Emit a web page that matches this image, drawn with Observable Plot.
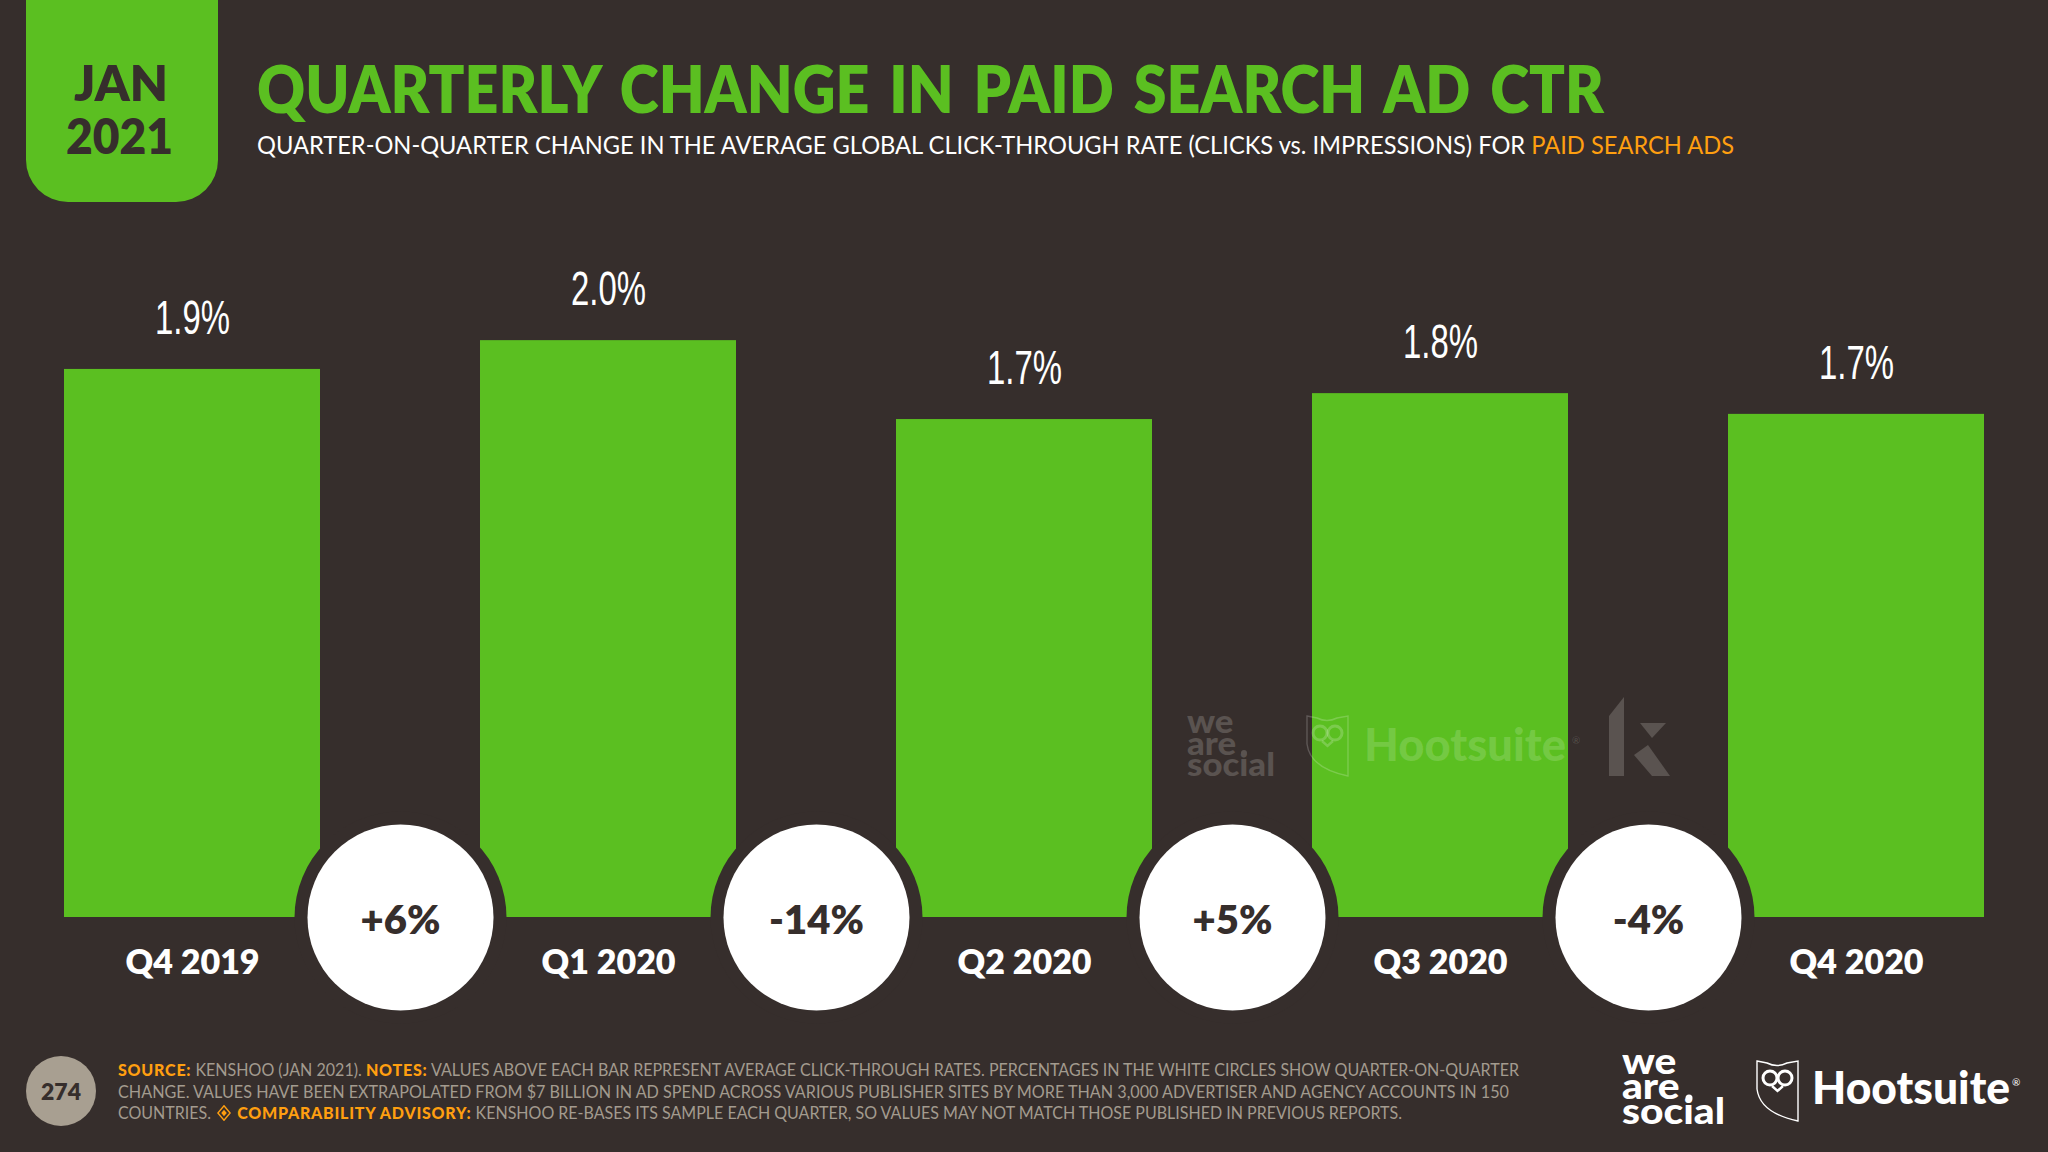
<!DOCTYPE html>
<html>
<head>
<meta charset="utf-8">
<script src="https://cdn.jsdelivr.net/npm/d3@7"></script>
<script src="https://cdn.jsdelivr.net/npm/@observablehq/plot@0.6"></script>
<style>
html,body{margin:0;padding:0;background:#362e2c;width:2048px;height:1152px;overflow:hidden}
#page{position:relative;width:2048px;height:1152px;overflow:hidden;font-family:Lato,sans-serif}
#chart{position:absolute;left:0;top:0}
.t{position:absolute;white-space:nowrap;transform-origin:0 0;line-height:1}
.o{color:#ff9f10}
b.o{font-weight:900;letter-spacing:.8px}
#tab{position:absolute;left:26px;top:-40px;width:192px;height:242px;background:#5bbf21;border-radius:0 0 42px 42px}
#pg{position:absolute;left:26px;top:1056px;width:70px;height:70px;border-radius:50%;background:#a89f91}
svg.logos{position:absolute;left:0;top:0;pointer-events:none}
</style>
</head>
<body>
<div id="page">
<div id="chart"></div>
<div id="tab"></div>
<div id="pg"></div>
<div class="t" id="jan" data-cx="121" data-w="94" style="top:58px;font-size:49px;font-weight:800;color:#362e2c">JAN</div>
<div class="t" id="yr" data-cx="119" data-w="107" style="top:111px;font-size:49px;font-weight:800;color:#362e2c">2021</div>
<div class="t" id="title" data-w="1347" style="left:257px;top:55px;font-size:66px;font-weight:800;word-spacing:7px;color:#5bbf21">QUARTERLY CHANGE IN PAID SEARCH AD CTR</div>
<div class="t" id="sub" data-w="1477" style="left:257px;top:132px;font-size:25px;font-weight:400;color:#fff">QUARTER-ON-QUARTER CHANGE IN THE AVERAGE GLOBAL CLICK-THROUGH RATE (CLICKS vs. IMPRESSIONS) FOR <span class="o">PAID SEARCH ADS</span></div>
<div class="t" id="pgn" data-cx="61" data-w="40" style="top:1080px;font-size:23px;font-weight:800;color:#362e2c">274</div>
<div class="t" id="f1" data-w="1401" style="left:118px;top:1061px;font-size:17px;color:#a39b8f"><b class="o">SOURCE:</b> KENSHOO (JAN 2021). <b class="o">NOTES:</b> VALUES ABOVE EACH BAR REPRESENT AVERAGE CLICK-THROUGH RATES. PERCENTAGES IN THE WHITE CIRCLES SHOW QUARTER-ON-QUARTER</div>
<div class="t" id="f2" data-w="1391" style="left:118px;top:1083px;font-size:17px;color:#a39b8f">CHANGE. VALUES HAVE BEEN EXTRAPOLATED FROM $7 BILLION IN AD SPEND ACROSS VARIOUS PUBLISHER SITES BY MORE THAN 3,000 ADVERTISER AND AGENCY ACCOUNTS IN 150</div>
<div class="t" id="f3" data-w="1284" style="left:118px;top:1104px;font-size:17px;color:#a39b8f">COUNTRIES. <svg width="15" height="16" viewBox="0 0 15 16" style="vertical-align:-2px;margin:0 2px"><path d="M7.5,.8 L14,8 L7.5,15.2 L1,8 Z" fill="none" stroke="#ff9f10" stroke-width="1.5"/><path d="M7.5,4.8 L10.4,8 L7.5,11.2 L4.6,8 Z" fill="#ff9f10"/></svg> <b class="o">COMPARABILITY ADVISORY:</b> KENSHOO RE-BASES ITS SAMPLE EACH QUARTER, SO VALUES MAY NOT MATCH THOSE PUBLISHED IN PREVIOUS REPORTS.</div>
<div class="t" data-w="103" style="left:1622px;top:1048px;font-size:36px;line-height:25px;font-weight:900;color:#fff">we<br>are<br>social</div>
<div class="t" data-w="198" style="left:1812px;top:1064px;font-size:46px;font-weight:900;color:#fff">Hootsuite</div>
<div class="t" style="left:2012px;top:1077px;font-size:10px;color:#fff">®</div>
<div class="t" data-w="88" style="left:1187px;top:710px;font-size:32px;line-height:21.5px;font-weight:900;color:#5a5350">we<br>are<br>social</div>
<div class="t" data-w="202" style="left:1364px;top:721px;font-size:46px;font-weight:900;color:rgba(255,255,255,.16)">Hootsuite</div>
<div class="t" style="left:1572px;top:735px;font-size:10px;color:rgba(255,255,255,.16)">®</div>
<svg class="logos" width="2048" height="1152">
  <defs>
    <g id="owl" fill="none" stroke-width="1.4">
      <path d="M0,0 L10,2 Q20,7 30,2 L41,0 L41,60 Q3,52 0,28 Z"/>
      <circle cx="13" cy="17" r="7" stroke-width="3"/>
      <circle cx="28" cy="17" r="7" stroke-width="3"/>
      <path d="M15,25 L20.5,30 L26,25" stroke-width="2.4"/>
    </g>
  </defs>
  <use href="#owl" x="1757" y="1061" stroke="#fff"/>
  <use href="#owl" x="1307" y="716" stroke="rgba(255,255,255,.2)"/>
  <circle cx="1689" cy="1098" r="3.5" fill="#fff"/>
  <circle cx="1244" cy="753" r="3" fill="#5a5350"/>
  <g fill="#5a5350">
    <polygon points="1609,716 1624,697 1624,776 1609,776"/>
    <polygon points="1640,723 1666,723 1652,738"/>
    <polygon points="1634,755 1648,745 1670,776 1652,776"/>
  </g>
</svg>
</div>
<script>
const quarters = ["Q4 2019", "Q1 2020", "Q2 2020", "Q3 2020", "Q4 2020"];
const ctrValues = [1.903, 2.003, 1.729, 1.819, 1.747];
const ctrLabels = ["1.9%", "2.0%", "1.7%", "1.8%", "1.7%"];
const changeLabels = ["+6%", "-14%", "+5%", "-4%"];

const bars = quarters.map((q, i) => ({quarter: q, value: ctrValues[i], label: ctrLabels[i]}));
const changes = changeLabels.map((label, i) => ({from: quarters[i], label}));
const bg = "#362e2c", green = "#5bbf21";
const zero = () => 0;

const plot = Plot.plot({
  width: 2048, height: 1152,
  marginTop: 0, marginBottom: 235, marginLeft: 64, marginRight: 64,
  style: {background: "transparent", overflow: "visible"},
  x: {domain: quarters, paddingInner: 160 / 416, paddingOuter: 0, axis: null},
  y: {domain: [0, 917 / 288], axis: null},
  marks: [
    Plot.barY(bars, {x: "quarter", y: "value", fill: green}),
    Plot.dot(changes, {x: "from", y: zero, r: 106, fill: bg, dx: 208}),
    Plot.dot(changes, {x: "from", y: zero, r: 93, fill: "white", dx: 208}),
    Plot.text(changes, {x: "from", y: zero, text: "label", dx: 208, dy: 4, fontSize: 40, fontWeight: 800, fontFamily: "Lato", fill: bg}),
    Plot.text(bars, {x: "quarter", y: "value", text: "label", dy: -51, fontSize: 48, fontFamily: "Liberation Sans", fill: "white"}),
    Plot.axisX({anchor: "bottom", tickSize: 0, tickPadding: 32, label: null, fontSize: 34, fontWeight: 800, fontFamily: "Lato", fill: "white"})
  ]
});
plot.querySelectorAll("text").forEach(t => {
  if (ctrLabels.includes(t.textContent)) {
    t.setAttribute("textLength", 75);
    t.setAttribute("lengthAdjust", "spacingAndGlyphs");
  }
});
document.getElementById("chart").append(plot);

function fit() {
  document.querySelectorAll(".t").forEach(el => {
    const w = el.getBoundingClientRect().width;
    const target = +el.dataset.w || w;
    const s = target / w;
    el.style.transform = `scaleX(${s})`;
    if (el.dataset.cx) el.style.left = (+el.dataset.cx - target / 2) + "px";
  });
}
fit();
if (document.fonts && document.fonts.ready) document.fonts.ready.then(() => {
  document.querySelectorAll(".t").forEach(el => el.style.transform = "none");
  fit();
});
</script>
</body>
</html>
